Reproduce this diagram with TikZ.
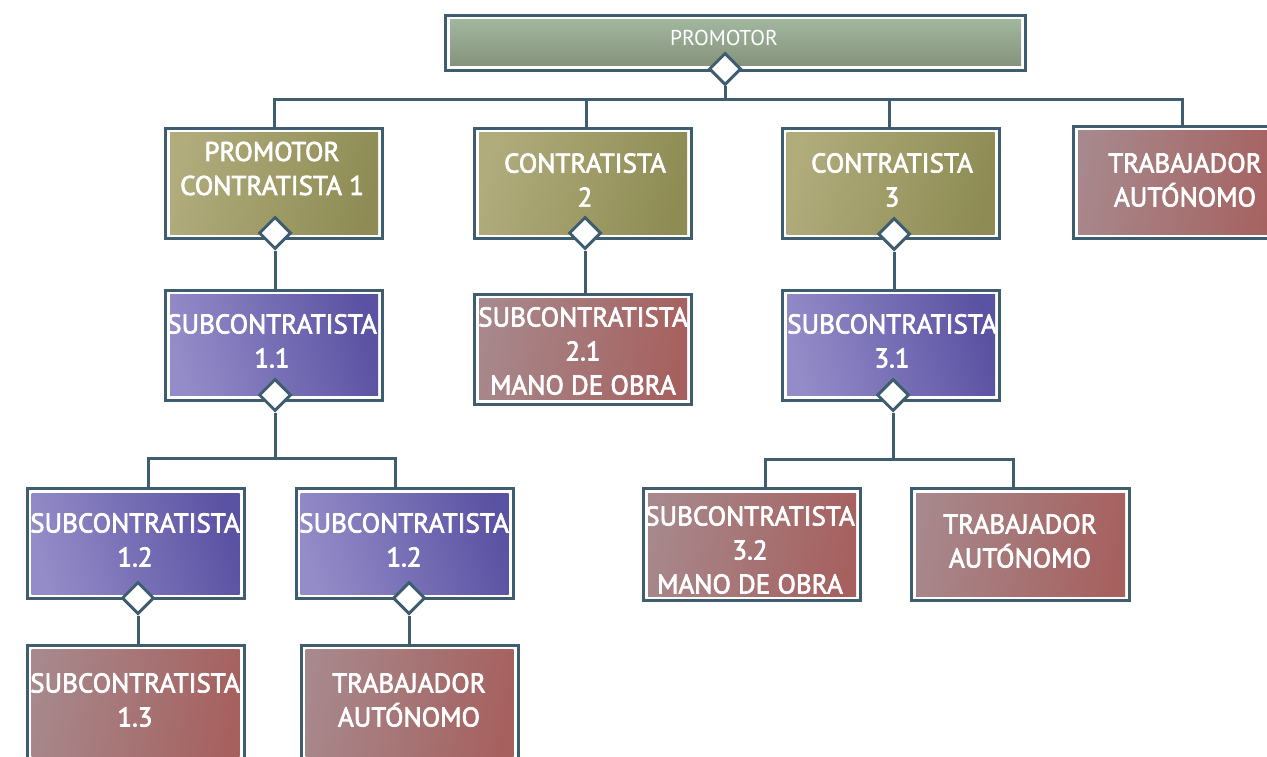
\documentclass[tikz,border=0pt]{standalone}
\usepackage{fontspec}
\setmainfont{PT Sans}
\newfontfamily\boxfont{PT Sans}[FakeBold=2.6]
\usetikzlibrary{shapes.geometric,calc,backgrounds}
\definecolor{ln}{RGB}{62,94,112}
\definecolor{olL}{RGB}{176,172,124}
\definecolor{olR}{RGB}{142,140,84}
\definecolor{puL}{RGB}{148,140,200}
\definecolor{puR}{RGB}{90,82,162}
\definecolor{reL}{RGB}{167,136,140}
\definecolor{reR}{RGB}{166,96,94}
\definecolor{grT}{RGB}{164,185,161}
\definecolor{grB}{RGB}{131,143,121}
\tikzset{
  conn/.style={draw=ln, line width=3pt},
  box/.style={rectangle, draw=ln, line width=3pt, fill=white, inner sep=0pt,
    minimum width=217pt, minimum height=110pt},
  olivebox/.style={box, path picture={\shade[left color=olL, right color=olR, shading angle=75]
    ($(path picture bounding box.south west)+(4.5pt,4.5pt)$) rectangle ($(path picture bounding box.north east)+(-4.5pt,-4.5pt)$);}},
  purplebox/.style={box, path picture={\shade[left color=puL, right color=puR, shading angle=105]
    ($(path picture bounding box.south west)+(4.5pt,4.5pt)$) rectangle ($(path picture bounding box.north east)+(-4.5pt,-4.5pt)$);}},
  redbox/.style={box, path picture={\shade[left color=reL, right color=reR, shading angle=80]
    ($(path picture bounding box.south west)+(4.5pt,4.5pt)$) rectangle ($(path picture bounding box.north east)+(-4.5pt,-4.5pt)$);}},
  greenbox/.style={box, minimum width=580pt, minimum height=55pt, path picture={\shade[top color=grT, bottom color=grB]
    ($(path picture bounding box.south west)+(4.5pt,4.5pt)$) rectangle ($(path picture bounding box.north east)+(-4.5pt,-4.5pt)$);}},
  dia/.style={diamond, draw=ln, line width=3pt, fill=white, inner sep=0pt, aspect=1,
    minimum width=32pt, minimum height=32pt},
  txt/.style={text=white, align=center, inner sep=0pt, font=\boxfont\fontsize{27}{34}\selectfont},
  toptxt/.style={text=white, align=center, inner sep=0pt, font=\fontsize{21.5}{26}\selectfont},
}
\begin{document}
\begin{tikzpicture}[x=1pt,y=-1pt]
\useasboundingbox (0,0) rectangle (1267,757);
% boxes
\node[greenbox] (top) at (735.5,43) {};
\node[olivebox] (pc1) at (274,183.5) {};
\node[olivebox] (c2) at (583,183.5) {};
\node[olivebox] (c3) at (890.5,183.5) {};
\node[redbox, minimum height=112pt] (ta1) at (1182,182.5) {};
\node[purplebox] (s11) at (274,345) {};
\node[redbox] (s21) at (583,349) {};
\node[purplebox] (s31) at (891,345) {};
\node[purplebox] (s12a) at (135.5,543.5) {};
\node[purplebox] (s12b) at (404.5,543.5) {};
\node[redbox, minimum height=120pt] (s13) at (135.5,705) {};
\node[redbox, minimum height=120pt] (ta2) at (409.5,705) {};
\node[redbox, minimum height=112pt] (s32) at (752,544.5) {};
\node[redbox, minimum width=218pt, minimum height=112pt] (ta3) at (1020.5,544.5) {};
% texts
\node[toptxt] (ttop) at (724,38) {PROMOTOR};
\node[txt] (tpc1) at (272,168.5) {PROMOTOR\\CONTRATISTA 1};
\node[txt] (tc2) at (585,180) {CONTRATISTA\\2};
\node[txt] (tc3) at (892,180) {CONTRATISTA\\3};
\node[txt] (tta1) at (1185,180) {TRABAJADOR\\AUTÓNOMO};
\node[txt] (ts11) at (272,341) {SUBCONTRATISTA\\1.1};
\node[txt] (ts21) at (583,351) {SUBCONTRATISTA\\2.1\\MANO DE OBRA};
\node[txt] (ts31) at (892,341) {SUBCONTRATISTA\\3.1};
\node[txt] (ts12a) at (135,540) {SUBCONTRATISTA\\1.2};
\node[txt] (ts12b) at (404,540) {SUBCONTRATISTA\\1.2};
\node[txt] (ts13) at (135,700) {SUBCONTRATISTA\\1.3};
\node[txt] (tta2) at (409,700) {TRABAJADOR\\AUTÓNOMO};
\node[txt] (ts32) at (750,550) {SUBCONTRATISTA\\3.2\\MANO DE OBRA};
\node[txt] (tta3) at (1020,541) {TRABAJADOR\\AUTÓNOMO};
% diamonds
\node[dia] (dtop) at (725,69) {};
\node[dia] (d1) at (275,233) {};
\node[dia] (d2) at (585,233) {};
\node[dia] (d3) at (894,234) {};
\node[dia] (d11) at (275,395) {};
\node[dia] (d31) at (893,395) {};
\node[dia] (d12a) at (138,598) {};
\node[dia] (d12b) at (409,598) {};
% bus coordinates
\coordinate (bus0) at (0,100);
\coordinate (bus1) at (0,458);
\coordinate (bus3) at (0,459);
\coordinate (p12a) at ([xshift=12.5pt]s12a.north);
\coordinate (p12b) at ([xshift=-9.5pt]s12b.north);
\coordinate (p32) at ([xshift=13pt]s32.north);
\coordinate (pta3) at ([xshift=-7.5pt]ta3.north);
\coordinate (pc2) at ([xshift=3pt]c2.north);
\coordinate (pc3) at ([xshift=-1.5pt]c3.north);
% connectors behind the boxes
\begin{scope}[on background layer]
\draw[conn] (pc1.north) |- (ta1.north |- bus0) -- (ta1.north);
\draw[conn] (pc2) -- (pc2 |- bus0);
\draw[conn] (pc3) -- (pc3 |- bus0);
\draw[conn] (dtop.south) -- (dtop.south |- bus0);
\draw[conn] (d1.south) -- (d1.south |- s11.north);
\draw[conn] (d2.south) -- (d2.south |- s21.north);
\draw[conn] (d3.south) -- (d3.south |- s31.north);
\draw[conn] (d11.south) -- (d11.south |- bus1);
\draw[conn] (p12a) |- (p12b |- bus1) -- (p12b);
\draw[conn] (d31.south) -- (d31.south |- bus3);
\draw[conn] (p32) |- (pta3 |- bus3) -- (pta3);
\draw[conn] (d12a.south) -- (d12a.south |- s13.north);
\draw[conn] (d12b.south) -- (d12b.south |- ta2.north);
\end{scope}
\end{tikzpicture}
\end{document}
